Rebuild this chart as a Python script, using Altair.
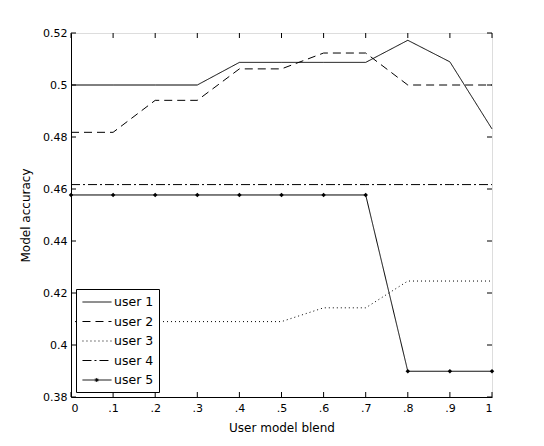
import altair as alt
import pandas as pd

blend = [0.0, 0.1, 0.2, 0.3, 0.4, 0.5, 0.6, 0.7, 0.8, 0.9, 1.0]
user1 = [0.5, 0.5, 0.5, 0.5, 0.5087, 0.5087, 0.5087, 0.5087, 0.5172, 0.5089, 0.4831]
user2 = [0.4818, 0.4818, 0.4941, 0.4941, 0.5062, 0.5062, 0.5123, 0.5123, 0.5, 0.5, 0.5]
user3 = [0.409, 0.409, 0.409, 0.409, 0.409, 0.409, 0.4143, 0.4143, 0.4246, 0.4246, 0.4246]
user4 = [0.4617] * 11
user5 = [0.4577, 0.4577, 0.4577, 0.4577, 0.4577, 0.4577, 0.4577, 0.4577, 0.3899, 0.3899, 0.3899]

users = ["user 1", "user 2", "user 3", "user 4", "user 5"]
dashes = [[1, 0], [8, 5], [1, 3], [9, 3, 2, 3], [1, 0]]
seg = "M-0.87,0L3,0"
dot = "M1.03,-0.27L1.03,0.27M0.76,0L1.3,0M0.84,-0.19L1.22,0.19M0.84,0.19L1.22,-0.19"
legend_shapes = [seg, seg, seg, seg, seg + dot]

x_ticks = [0.0, 0.1, 0.2, 0.3, 0.4, 0.5, 0.6, 0.7, 0.8, 0.9, 1.0]
y_ticks = [0.38, 0.40, 0.42, 0.44, 0.46, 0.48, 0.50, 0.52]

W, H = 421, 364
FONT = "DejaVu Sans"

rows = []
for name, vals in zip(users, [user1, user2, user3, user4, user5]):
    for i, (b, v) in enumerate(zip(blend, vals)):
        rows.append({"user": name, "blend": b, "acc": v, "order": i})
df = pd.DataFrame(rows)
df5 = df[df["user"] == "user 5"]

xscale = alt.Scale(domain=[0, 1], nice=False)
yscale = alt.Scale(domain=[0.38, 0.52], nice=False, zero=False)

xlab = "datum.value > 0.001 && datum.value < 0.999 ? replace(format(datum.value, '.1f'), '0.', '.') : format(datum.value, 'd')"

legend_kw = dict(
    title=None, orient="bottom-left", offset=5,
    fillColor="white", strokeColor="black", padding=5,
    labelFont=FONT, labelFontSize=12.5, labelColor="black",
    symbolSize=225, symbolStrokeWidth=1, symbolStrokeColor="black",
    symbolFillColor="black", symbolOpacity=1, labelOffset=17, rowPadding=4.5,
)

lines = alt.Chart(df).mark_line(color="black", strokeWidth=1).encode(
    x=alt.X("blend:Q", scale=xscale,
            axis=alt.Axis(title="User model blend", values=x_ticks, labelExpr=xlab,
                          ticks=False, grid=False, domainColor="black",
                          labelFont=FONT, labelFontSize=11, labelColor="black",
                          labelPadding=5, titleFont=FONT, titleFontSize=12,
                          titleFontWeight="normal", titleColor="black", titlePadding=9)),
    y=alt.Y("acc:Q", scale=yscale,
            axis=alt.Axis(title="Model accuracy", values=y_ticks, format=".2~f",
                          ticks=False, grid=False, domainColor="black",
                          labelFont=FONT, labelFontSize=11, labelColor="black",
                          labelPadding=4, titleFont=FONT, titleFontSize=12,
                          titleFontWeight="normal", titleColor="black", titlePadding=10)),
    strokeDash=alt.StrokeDash("user:N", scale=alt.Scale(domain=users, range=dashes),
                              legend=alt.Legend(**legend_kw)),
    detail="user:N",
    order="order:Q",
)

markers = alt.Chart(df5).mark_point(shape="diamond", filled=True, size=20, color="black", opacity=1).encode(
    x=alt.X("blend:Q", scale=xscale),
    y=alt.Y("acc:Q", scale=yscale),
)

legend_carrier = alt.Chart(df).transform_filter("false").mark_point(color="black", opacity=1).encode(
    x=alt.X("blend:Q", scale=xscale),
    y=alt.Y("acc:Q", scale=yscale),
    shape=alt.Shape("user:N", scale=alt.Scale(domain=users, range=legend_shapes),
                    legend=alt.Legend(**legend_kw)),
)

xt = pd.DataFrame({"t": x_ticks})
yt = pd.DataFrame({"t": y_ticks})
tick_bottom = alt.Chart(xt).mark_rule(color="black", strokeWidth=1).encode(
    x=alt.X("t:Q", scale=xscale), y=alt.value(H), y2=alt.value(H - 5))
tick_top = alt.Chart(xt).mark_rule(color="black", strokeWidth=1).encode(
    x=alt.X("t:Q", scale=xscale), y=alt.value(0), y2=alt.value(5))
tick_left = alt.Chart(yt).mark_rule(color="black", strokeWidth=1).encode(
    y=alt.Y("t:Q", scale=yscale), x=alt.value(0), x2=alt.value(5))
tick_right = alt.Chart(yt).mark_rule(color="black", strokeWidth=1).encode(
    y=alt.Y("t:Q", scale=yscale), x=alt.value(W), x2=alt.value(W - 5))

chart = alt.layer(
    tick_bottom, tick_top, tick_left, tick_right, lines, markers, legend_carrier
).properties(
    width=W, height=H,
    autosize=alt.AutoSizeParams(type="none"),
    padding={"left": 63, "top": 25, "right": 44, "bottom": 41},
).configure_view(
    stroke="black", strokeWidth=1
).configure(
    background="white"
)

chart.save("out.html", embed_options={"renderer": "svg", "actions": False})
